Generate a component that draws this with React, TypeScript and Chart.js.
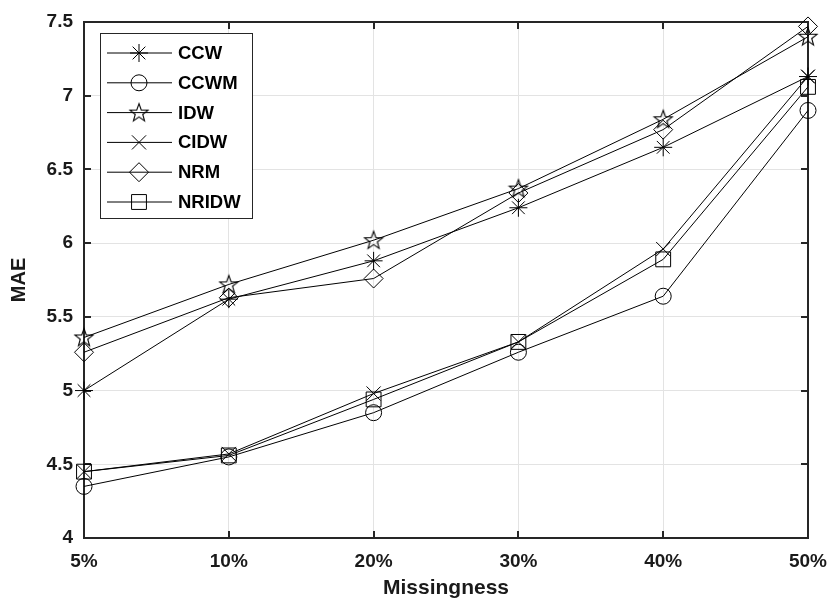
import React, { useEffect, useRef } from 'react';
import { Chart, registerables } from 'chart.js';

Chart.register(...registerables);

const categories = ['5%', '10%', '20%', '30%', '40%', '50%'];
const ccw = [5.0, 5.62, 5.88, 6.24, 6.65, 7.13];
const ccwm = [4.35, 4.55, 4.85, 5.26, 5.64, 6.9];
const idw = [5.36, 5.72, 6.02, 6.37, 6.84, 7.4];
const cidw = [4.45, 4.57, 4.98, 5.33, 5.96, 7.13];
const nrm = [5.26, 5.63, 5.76, 6.34, 6.77, 7.47];
const nridw = [4.45, 4.56, 4.94, 5.33, 5.89, 7.06];
const seriesNames = ['CCW', 'CCWM', 'IDW', 'CIDW', 'NRM', 'NRIDW'];
const yMin = 4;
const yMax = 7.5;
const yStep = 0.5;

const FONT = "'Liberation Sans', Arial, sans-serif";

function makeStar(): HTMLCanvasElement {
  const c = document.createElement('canvas');
  c.width = 22;
  c.height = 22;
  const ctx = c.getContext('2d')!;
  ctx.strokeStyle = '#000';
  ctx.lineWidth = 1.1;
  ctx.beginPath();
  const R = 9.5, r = 3.9, cx = 11, cy = 11.5;
  for (let i = 0; i < 10; i++) {
    const a = -Math.PI / 2 + (i * Math.PI) / 5;
    const rr = i % 2 === 0 ? R : r;
    const x = cx + rr * Math.cos(a);
    const y = cy + rr * Math.sin(a);
    if (i === 0) ctx.moveTo(x, y); else ctx.lineTo(x, y);
  }
  ctx.closePath();
  ctx.stroke();
  return c;
}

function drawMarker(ctx: CanvasRenderingContext2D, style: any, x: number, y: number, r: number) {
  ctx.save();
  ctx.strokeStyle = '#000';
  ctx.lineWidth = 1;
  if (style instanceof HTMLCanvasElement) {
    ctx.drawImage(style, x - style.width / 2, y - style.height / 2);
    ctx.restore();
    return;
  }
  ctx.beginPath();
  const s = Math.SQRT1_2 * r;
  switch (style) {
    case 'circle':
      ctx.arc(x, y, r, 0, Math.PI * 2);
      break;
    case 'rect':
      ctx.rect(x - s, y - s, 2 * s, 2 * s);
      break;
    case 'rectRot':
      ctx.moveTo(x, y - r);
      ctx.lineTo(x + r, y);
      ctx.lineTo(x, y + r);
      ctx.lineTo(x - r, y);
      ctx.closePath();
      break;
    case 'crossRot':
      ctx.moveTo(x - s, y - s); ctx.lineTo(x + s, y + s);
      ctx.moveTo(x - s, y + s); ctx.lineTo(x + s, y - s);
      break;
    case 'star':
      ctx.moveTo(x - r, y); ctx.lineTo(x + r, y);
      ctx.moveTo(x, y - r); ctx.lineTo(x, y + r);
      ctx.moveTo(x - s, y - s); ctx.lineTo(x + s, y + s);
      ctx.moveTo(x - s, y + s); ctx.lineTo(x + s, y - s);
      break;
  }
  ctx.stroke();
  ctx.restore();
}

export default function App() {
  const ref = useRef<HTMLCanvasElement | null>(null);

  useEffect(() => {
    if (!ref.current) return;
    const star = makeStar();
    const styles: any[] = ['star', 'circle', star, 'crossRot', 'rectRot', 'rect'];
    const radii = [9, 8, 10, 10, 9.5, 10.5];
    const values = [ccw, ccwm, idw, cidw, nrm, nridw];

    const framePlugin = {
      id: 'frame',
      beforeDatasetsDraw(chart: any) {
        const { ctx, chartArea: a, scales } = chart;
        ctx.save();
        ctx.strokeStyle = '#262626';
        ctx.lineWidth = 2;
        ctx.strokeRect(a.left, a.top, a.right - a.left, a.bottom - a.top);
        const tl = 7;
        ctx.beginPath();
        scales.x.ticks.forEach((_t: any, i: number) => {
          const px = Math.round(scales.x.getPixelForTick(i));
          ctx.moveTo(px, a.bottom); ctx.lineTo(px, a.bottom - tl);
          ctx.moveTo(px, a.top); ctx.lineTo(px, a.top + tl);
        });
        scales.y.ticks.forEach((t: any) => {
          const py = Math.round(scales.y.getPixelForValue(t.value));
          ctx.moveTo(a.left, py); ctx.lineTo(a.left + tl, py);
          ctx.moveTo(a.right, py); ctx.lineTo(a.right - tl, py);
        });
        ctx.stroke();
        ctx.restore();
      },
    };

    const legendPlugin = {
      id: 'boxLegend',
      afterDraw(chart: any) {
        const { ctx, chartArea: a } = chart;
        const x0 = a.left + 16;
        const y0 = a.top + 11;
        const w = 152;
        const h = 185;
        ctx.save();
        ctx.fillStyle = '#fff';
        ctx.fillRect(x0, y0, w, h);
        ctx.strokeStyle = '#262626';
        ctx.lineWidth = 1;
        ctx.strokeRect(x0 + 0.5, y0 + 0.5, w, h);
        ctx.font = `bold 18.5px ${FONT}`;
        ctx.textBaseline = 'middle';
        ctx.fillStyle = '#000';
        seriesNames.forEach((name, i) => {
          const y = y0 + 20 + i * 29.8;
          ctx.strokeStyle = '#000';
          ctx.lineWidth = 1;
          ctx.beginPath();
          ctx.moveTo(x0 + 7, y);
          ctx.lineTo(x0 + 72, y);
          ctx.stroke();
          drawMarker(ctx, styles[i], x0 + 39, y, radii[i]);
          ctx.fillText(name, x0 + 78, y + 1);
        });
        ctx.restore();
      },
    };

    const chart = new Chart(ref.current, {
      type: 'line',
      data: {
        labels: categories,
        datasets: values.map((v, i) => ({
          label: seriesNames[i],
          data: v,
          borderColor: '#000',
          borderWidth: 1,
          backgroundColor: 'rgba(0,0,0,0)',
          pointStyle: styles[i],
          pointRadius: radii[i],
          pointBorderColor: '#000',
          pointBorderWidth: 1,
          pointBackgroundColor: 'rgba(0,0,0,0)',
          tension: 0,
          clip: false as any,
        })),
      },
      options: {
        animation: false,
        responsive: false,
        events: [],
        layout: { padding: { left: 0, right: 21, top: 22, bottom: 0 } },
        plugins: { legend: { display: false }, tooltip: { enabled: false } },
        scales: {
          x: {
            type: 'category',
            offset: false,
            grid: { color: '#e3e3e3', lineWidth: 1, drawTicks: false },
            border: { display: false },
            ticks: { color: '#1a1a1a', font: { family: FONT, size: 19, weight: 'bold' }, padding: 12, maxRotation: 0, autoSkip: false },
            title: { display: true, text: 'Missingness', color: '#1a1a1a', font: { family: FONT, size: 21, weight: 'bold' }, padding: { top: 0, bottom: 0 } },
            afterFit: (s: any) => { s.height = 63; s.paddingLeft = 0; s.paddingRight = 0; },
          },
          y: {
            min: yMin,
            max: yMax,
            grid: { color: '#e3e3e3', lineWidth: 1, drawTicks: false },
            border: { display: false },
            ticks: {
              stepSize: yStep,
              color: '#1a1a1a',
              font: { family: FONT, size: 19, weight: 'bold' },
              padding: 11,
              callback: (v: any) => `${+v}`,
            },
            title: { display: true, text: 'MAE', color: '#1a1a1a', font: { family: FONT, size: 20, weight: 'bold' }, padding: { top: 7, bottom: 0 } },
            afterFit: (s: any) => { s.width = 84; s.paddingTop = 0; s.paddingBottom = 0; },
          },
        },
      },
      plugins: [framePlugin, legendPlugin],
    });
    return () => chart.destroy();
  }, []);

  return (
    <div style={{ position: 'absolute', left: 0, top: 0, width: 829, height: 601, background: '#fff' }}>
      <canvas ref={ref} width={829} height={601} style={{ display: 'block' }} />
    </div>
  );
}
